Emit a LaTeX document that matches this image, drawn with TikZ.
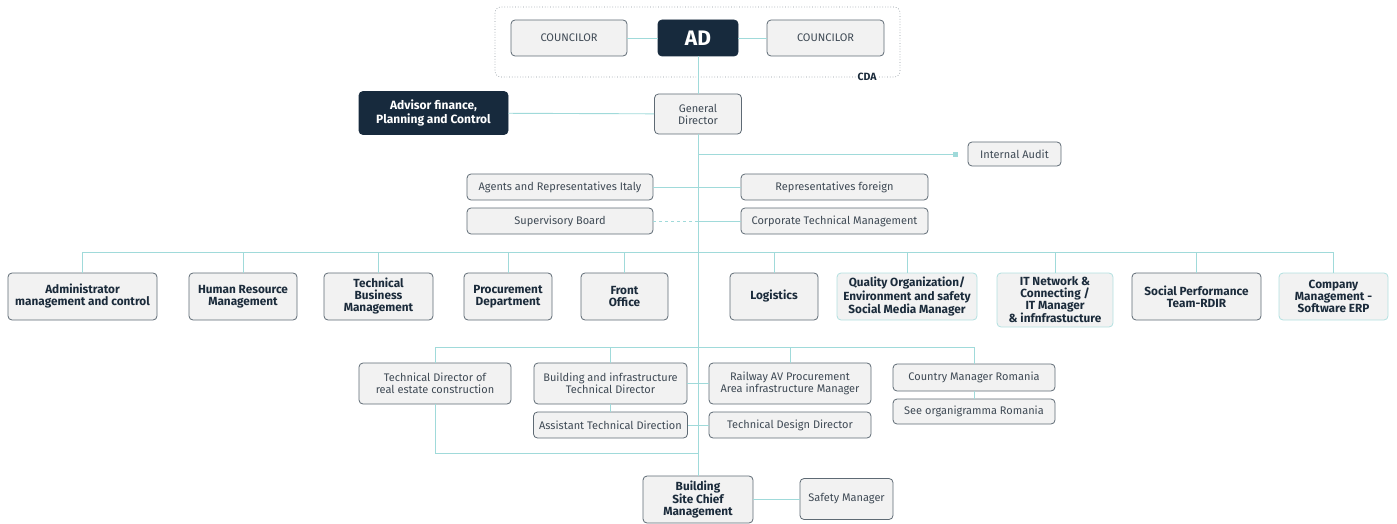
\documentclass[tikz,border=0pt]{standalone}
\usepackage{fontspec}
\setmainfont{Fira Sans}
\definecolor{linkc}{RGB}{160,218,218}
\definecolor{boxfill}{RGB}{242,242,242}
\definecolor{boxline}{RGB}{94,106,116}
\definecolor{tealline}{RGB}{178,224,224}
\definecolor{darkfill}{RGB}{23,42,61}
\definecolor{txtdark}{RGB}{27,43,59}
\definecolor{txtgray}{RGB}{63,74,85}
\tikzset{
  link/.style={draw=linkc,line width=0.9pt},
  pbox/.style={draw=boxline,fill=boxfill,rounded corners=4pt,line width=0.8pt,align=center,
    text=txtgray,inner sep=2pt,font=\fontsize{11}{12}\selectfont},
  bbox/.style={pbox,text=txtdark,font=\fontsize{11.8}{12}\selectfont\bfseries},
  tbox/.style={bbox,draw=tealline},
  dbox/.style={pbox,draw=darkfill,fill=darkfill,text=white,font=\fontsize{12}{13.5}\selectfont\bfseries},
}
\begin{document}
\begin{tikzpicture}[x=1pt,y=-1pt]
\useasboundingbox (0,0) rectangle (1397,524);
\draw[boxline!70,dotted,line width=0.7pt,rounded corners=6pt] (495,7) rectangle (900,77);
\node[fill=white,text=txtdark,font=\fontsize{10.5}{12}\selectfont\bfseries,inner sep=2pt] (cda) at (867,77) {CDA};
\node[pbox,minimum width=116pt,minimum height=36pt] (counL) at (569,38) {COUNCILOR};
\node[dbox,minimum width=80pt,minimum height=36pt,font=\fontsize{21}{22}\selectfont\bfseries] (ad) at (698,38) {AD};
\node[pbox,minimum width=117pt,minimum height=36pt] (counR) at (825.5,38) {COUNCILOR};
\node[pbox,minimum width=87pt,minimum height=40pt] (gd) at (698,114) {General\\Director};
\node[dbox,minimum width=149pt,minimum height=43pt] (adv) at (433.5,113) {Advisor finance,\\Planning and Control};
\node[pbox,minimum width=93pt,minimum height=24pt] (audit) at (1014.5,154) {Internal Audit};
\coordinate (auditpt) at (955,154);
\node[pbox,minimum width=186pt,minimum height=26pt] (agents) at (560,187) {Agents and Representatives Italy};
\node[pbox,minimum width=187pt,minimum height=26pt] (repf) at (834.5,187) {Representatives foreign};
\node[pbox,minimum width=186pt,minimum height=26pt] (sup) at (560,221) {Supervisory Board};
\node[pbox,minimum width=187pt,minimum height=26pt] (ctm) at (834.5,221) {Corporate Technical Management};
\coordinate (bus) at (698,252);
\node[bbox,minimum width=149pt,minimum height=47pt] (admin) at (82.5,296.5) {Administrator\\management and control};
\node[bbox,minimum width=108pt,minimum height=47pt] (hr) at (243,296.5) {Human Resource\\Management};
\node[bbox,minimum width=109pt,minimum height=47pt] (tbm) at (378.5,296.5) {Technical\\Business\\Management};
\node[bbox,minimum width=88pt,minimum height=47pt] (proc) at (508,296.5) {Procurement\\Department};
\node[bbox,minimum width=87pt,minimum height=47pt] (front) at (624.5,296.5) {Front\\Office};
\node[bbox,minimum width=88pt,minimum height=47pt] (logi) at (774,296.5) {Logistics};
\node[tbox,minimum width=140pt,minimum height=47pt] (qual) at (907,296.5) {Quality Organization/\\Environment and safety\\Social Media Manager};
\node[tbox,minimum width=116pt,minimum height=54pt] (itn) at (1055,300) {IT Network \&\\Connecting /\\IT Manager\\\& infnfrastucture};
\node[bbox,minimum width=129pt,minimum height=47pt] (soc) at (1196.5,296.5) {Social Performance\\Team-RDIR};
\node[tbox,minimum width=109pt,minimum height=47pt] (comp) at (1333.5,296.5) {Company\\Management -\\Software ERP};
\coordinate (bus2) at (698,347);
\node[pbox,minimum width=152pt,minimum height=41pt] (tdre) at (435,383.5) {Technical Director of\\real estate construction};
\node[pbox,minimum width=153pt,minimum height=41pt] (bitd) at (610.5,383.5) {Building and infrastructure\\Technical Director};
\node[pbox,minimum width=154pt,minimum height=26pt] (atd) at (610.5,425) {Assistant Technical Direction};
\node[pbox,minimum width=162pt,minimum height=41pt] (rail) at (790,383.5) {Railway AV Procurement\\Area infrastructure Manager};
\node[pbox,minimum width=162pt,minimum height=26pt] (tdd) at (790,425) {Technical Design Director};
\node[pbox,minimum width=162pt,minimum height=27pt] (cmr) at (974,377.5) {Country Manager Romania};
\node[pbox,minimum width=162pt,minimum height=25pt] (see) at (974,411.5) {See organigramma Romania};
\coordinate (loop) at (698,453);
\node[bbox,minimum width=110pt,minimum height=47pt] (bsc) at (698,499.5) {Building\\Site Chief\\Management};
\node[pbox,minimum width=93pt,minimum height=41pt] (safety) at (846.5,499) {Safety Manager};
\draw[link] (counL) -- (ad);
\draw[link] (ad) -- (counR);
\draw[link] (ad) -- (gd);
\draw[link] (adv) -- (gd);
\draw[link] (gd) -- (bsc);
\draw[link] (gd.south |- auditpt) -- (auditpt);
\fill[linkc] (auditpt) ++(-2.5,-2.5) rectangle ++(5,5);
\draw[link] (agents) -- (repf);
\draw[link,dashed] (sup.east) -- (sup.east -| gd);
\draw[link] (sup.east -| gd) -- (ctm.west);
\draw[link] (admin.north |- bus) -- (comp.north |- bus);
\foreach \n in {admin,hr,tbm,proc,front,logi,qual,itn,soc,comp}
  \draw[link] (\n.north |- bus) -- (\n.north);
\draw[link] (tdre.north |- bus2) -- (cmr.north |- bus2);
\foreach \n in {tdre,bitd,rail,cmr}
  \draw[link] (\n.north |- bus2) -- (\n.north);
\draw[link] (bitd) -- (atd);
\draw[link] (cmr) -- (see);
\draw[link] (bitd) -- (rail);
\draw[link] (atd) -- (tdd);
\draw[link] (tdre.south) |- (loop);
\draw[link] (bsc.east) -- (bsc.east -| safety.west);
\end{tikzpicture}
\end{document}
